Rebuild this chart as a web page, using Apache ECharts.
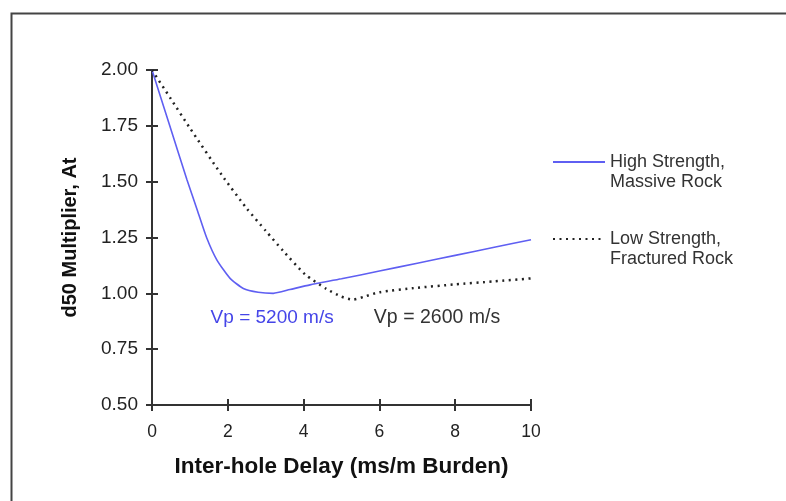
<!DOCTYPE html>
<html>
<head>
<meta charset="utf-8">
<script src="https://cdn.jsdelivr.net/npm/echarts@6/dist/echarts.min.js"></script>
<style>html,body{margin:0;padding:0;background:#fff;}#c{width:786px;height:501px;}</style>
</head>
<body>
<div id="c"></div>
<script>
// Data
const delayHigh = [0, 0.45, 0.92, 1.2, 1.44, 1.71, 2.06, 2.41, 2.8, 3.2, 3.64, 4.17, 5, 6, 7, 8, 9, 10];
const multHigh  = [2.0, 1.76, 1.51, 1.37, 1.25, 1.15, 1.067, 1.022, 1.005, 1.0, 1.017, 1.038, 1.065, 1.1, 1.135, 1.17, 1.205, 1.24];
const delayLow  = [0, 0.5, 1, 1.84, 2.5, 3, 3.46, 4.04, 4.6, 5.0, 5.3, 5.6, 6.0, 7, 8, 9, 10];
const multLow   = [2.0, 1.87, 1.74, 1.53, 1.38, 1.28, 1.19, 1.085, 1.02, 0.985, 0.972, 0.985, 1.005, 1.025, 1.04, 1.053, 1.067];
const seriesNames = ['High Strength,\nMassive Rock', 'Low Strength,\nFractured Rock'];
const annotTexts = ['Vp = 5200 m/s', 'Vp = 2600 m/s'];
const annotPos = [[3.17, 0.89], [7.52, 0.89]];
const xTicks = [0, 2, 4, 6, 8, 10];
const yTicks = [0.5, 0.75, 1.0, 1.25, 1.5, 1.75, 2.0];

const zip = (a, b) => a.map((v, i) => [v, b[i]]);
const FONT = '"Liberation Sans", Arial, sans-serif';
const AX = '#333';
const BLUE = '#5f5ff2';

const chart = echarts.init(document.getElementById('c'), null, {renderer: 'canvas'});
const baseX = {
  type: 'value', min: xTicks[0], max: xTicks[xTicks.length - 1], interval: 2,
  position: 'bottom',
  axisLine: {show: true, onZero: false, lineStyle: {color: AX, width: 2}},
  splitLine: {show: false}
};
const baseY = {
  type: 'value', min: yTicks[0], max: yTicks[yTicks.length - 1], interval: 0.25,
  position: 'left',
  axisLine: {show: true, onZero: false, lineStyle: {color: AX, width: 2}},
  splitLine: {show: false}
};
const legendBase = {
  orient: 'vertical', padding: 0, itemGap: 0,
  itemWidth: 52, itemHeight: 10,
  itemStyle: {opacity: 0},
  formatter: name => '\u00a0\n' + name,
  textStyle: {fontFamily: FONT, fontSize: 18, color: '#333', lineHeight: 20}
};
chart.setOption({
  animation: false,
  backgroundColor: '#fff',
  grid: {left: 152, right: 255, top: 70, bottom: 96, containLabel: false},
  graphic: [{
    type: 'rect', left: 9, top: 11,
    shape: {width: 820, height: 540},
    style: {fill: 'none', stroke: '#444', lineWidth: 2}
  }],
  xAxis: [
    Object.assign({}, baseX, {
      name: 'Inter-hole Delay (ms/m Burden)', nameLocation: 'middle', nameGap: 50,
      nameTextStyle: {fontFamily: FONT, fontWeight: 'bold', fontSize: 22.5, color: '#111'},
      axisTick: {show: true, inside: false, length: 6, lineStyle: {color: AX, width: 2}},
      axisLabel: {show: true, margin: 18, fontFamily: FONT, fontSize: 17.5, color: '#222'}
    }),
    Object.assign({}, baseX, {
      axisTick: {show: true, inside: true, length: 6, lineStyle: {color: AX, width: 2}},
      axisLabel: {show: false}
    })
  ],
  yAxis: [
    Object.assign({}, baseY, {
      name: 'd50 Multiplier, At', nameLocation: 'middle', nameGap: 72, nameRotate: 90,
      nameTextStyle: {fontFamily: FONT, fontWeight: 'bold', fontSize: 20, color: '#111'},
      axisTick: {show: true, inside: false, length: 6, lineStyle: {color: AX, width: 2}},
      axisLabel: {show: true, margin: 14, fontFamily: FONT, fontSize: 19, color: '#222',
        formatter: v => v.toFixed(2)}
    }),
    Object.assign({}, baseY, {
      axisTick: {show: true, inside: true, length: 6, lineStyle: {color: AX, width: 2}},
      axisLabel: {show: false}
    })
  ],
  legend: [
    Object.assign({}, legendBase, {data: [seriesNames[0]], left: 552, top: 132}),
    Object.assign({}, legendBase, {data: [seriesNames[1]], left: 552, top: 209})
  ],
  series: [
    {
      name: seriesNames[0], type: 'line', xAxisIndex: 0, yAxisIndex: 0,
      data: zip(delayHigh, multHigh), smooth: 0.2, symbol: 'none',
      lineStyle: {color: BLUE, width: 1.6},
      itemStyle: {color: BLUE},
      markPoint: {
        symbol: 'circle', symbolSize: 0,
        label: {show: true, formatter: annotTexts[0], fontFamily: FONT, fontSize: 19, color: '#4545e8'},
        data: [{coord: annotPos[0]}]
      }
    },
    {
      name: seriesNames[1], type: 'line', xAxisIndex: 0, yAxisIndex: 0,
      data: zip(delayLow, multLow), smooth: 0.2, symbol: 'none',
      lineStyle: {color: '#222', width: 2.5, type: [2, 4.5]},
      itemStyle: {color: '#222'},
      markPoint: {
        symbol: 'circle', symbolSize: 0,
        label: {show: true, formatter: annotTexts[1], fontFamily: FONT, fontSize: 19.5, color: '#333'},
        data: [{coord: annotPos[1]}]
      }
    }
  ]
});
</script>
</body>
</html>
